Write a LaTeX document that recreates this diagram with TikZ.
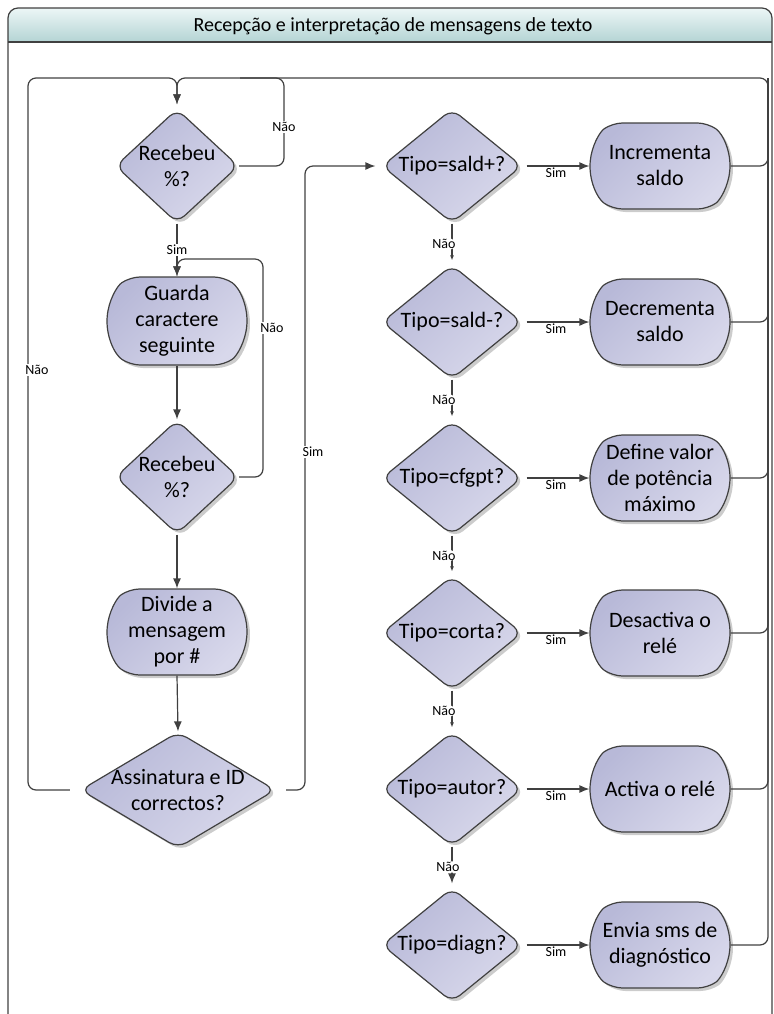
\documentclass[tikz,border=0pt]{standalone}
\usepackage{fontspec}
\setmainfont{Carlito}
\usepackage{tikz}
\usetikzlibrary{shapes.geometric, shapes.misc, arrows.meta, positioning, shadows}
\definecolor{nodetop}{RGB}{184,185,216}
\definecolor{nodebot}{RGB}{216,216,235}
\definecolor{edgegray}{RGB}{64,64,64}
\definecolor{headtop}{RGB}{236,246,246}
\definecolor{headbot}{RGB}{180,212,212}
\tikzstyle{decision} = [diamond, aspect=1.2, inner sep=-12pt, rounded corners=5pt, draw=edgegray, line width=0.6pt, top color=nodetop, bottom color=nodebot, shading angle=45, drop shadow={shadow xshift=1.5pt, shadow yshift=-1.5pt, fill=gray!80}, align=center, font=\fontsize{11}{13}\selectfont, minimum width=70pt, minimum height=57pt]
\tikzstyle{process} = [rounded rectangle, rounded rectangle arc length=110, rounded corners=5pt, draw=edgegray, line width=0.6pt, top color=nodetop, bottom color=nodebot, shading angle=45, drop shadow={shadow xshift=1.5pt, shadow yshift=-1.5pt, fill=gray!80}, align=center, font=\fontsize{11}{13}\selectfont, minimum width=72pt, minimum height=43pt, inner sep=1pt]
\tikzstyle{line} = [draw=edgegray, line width=0.6pt, rounded corners=4pt]
\tikzstyle{arrow} = [line, -{Latex[length=5pt,width=4pt]}]
\tikzstyle{smallarrow} = [line, -{Latex[length=2.5pt,width=2pt]}]
\tikzstyle{lbl} = [font=\fontsize{7}{8}\selectfont, fill=white, inner sep=0.5pt]

\begin{document}
\begin{tikzpicture}[x=0.5pt, y=-0.5pt]
\useasboundingbox (0,0) rectangle (773,1014);
\clip (0,0) rectangle (773,1014);

% frame and title band
\path[top color=headtop, bottom color=headbot] (8,42) {[rounded corners=5pt] -- (8,8) -- (772,8)} -- (772,42) -- cycle;
\draw[edgegray, line width=0.6pt, rounded corners=5pt] (8,1030) -- (8,8) -- (772,8) -- (772,1030);
\draw[edgegray, line width=0.6pt] (8,42) -- (772,42);
\node[font=\fontsize{10}{12}\selectfont] (title) at (393,26) {Recepção e interpretação de mensagens de texto};

% left column
\node[decision, minimum width=61.5pt] (rec1) at (177,166) {Recebeu\\\%?};
\node[process, minimum height=44pt] (guarda) at (177,321) {Guarda\\caractere\\seguinte};
\node[decision, minimum width=61.5pt] (rec2) at (177,477) {Recebeu\\\%?};
\node[process] (divide) at (177,632) {Divide a\\mensagem\\por \#};
\node[decision, minimum width=97.5pt, minimum height=58pt] (assin) at (178,790) {Assinatura e ID\\correctos?};

% right column
\node[decision] (saldp) at (452,166) {Tipo=sald+?};
\node[decision] (saldm) at (452,322) {Tipo=sald-?};
\node[decision] (cfgpt) at (452,478) {Tipo=cfgpt?};
\node[decision] (corta) at (452,633) {Tipo=corta?};
\node[decision] (autor) at (452,789) {Tipo=autor?};
\node[decision] (diagn) at (452,945) {Tipo=diagn?};

\node[process] (incr) at (660,166) {Incrementa\\saldo};
\node[process] (decr) at (660,322) {Decrementa\\saldo};
\node[process] (defval) at (660,478) {Define valor\\de potência\\máximo};
\node[process] (desact) at (660,633) {Desactiva o\\relé};
\node[process] (activa) at (660,789) {Activa o relé};
\node[process] (envia) at (660,945) {Envia sms de\\diagnóstico};

% connectors
\coordinate (ret) at (768,78);
\coordinate (lft) at (28,78);
\draw[arrow, shorten >=2pt] (envia.east) -| (ret) -| (rec1.north);
\foreach \p in {incr,decr,defval,desact,activa}
  \draw[line] (\p.east) -| (ret);
\draw[arrow, shorten >=2pt, shorten <=5pt] (assin.west) -| (lft) -| (rec1.north);
\draw[line] (rec1.east) -| (284,78) -- (240,78);
\draw[arrow] (rec1.south) -- node[lbl] (sim1) {Sim} (guarda.north);
\draw[arrow] (guarda.south) -- (rec2.north);
\draw[arrow] (rec2.south) -- (divide.north);
\draw[arrow] (divide.south) -- (assin.north);
\draw[arrow] (rec2.east) -| (263,259) -| (guarda.north);
\draw[arrow, shorten <=5pt, shorten >=3pt] (assin.east) -| (305,166) -- (saldp.west);

\node[lbl] (nao1) at (284,127) {Não};
\node[lbl] (nao2) at (272,328) {Não};
\node[lbl] (nao3) at (37,370) {Não};
\node[lbl] (sim2) at (313,452) {Sim};

\draw[smallarrow, shorten >=2pt] (saldp.south) -- node[lbl, xshift=-4pt] (nao4) {Não} (saldm.north);
\draw[smallarrow, shorten >=2pt] (saldm.south) -- node[lbl, xshift=-4pt] (nao5) {Não} (cfgpt.north);
\draw[smallarrow, shorten >=2pt] (cfgpt.south) -- node[lbl, xshift=-4pt] (nao6) {Não} (corta.north);
\draw[smallarrow, shorten >=2pt] (corta.south) -- node[lbl, xshift=-4pt] (nao7) {Não} (autor.north);
\draw[arrow, shorten >=2pt] (autor.south) -- node[lbl, xshift=-2pt] (nao8) {Não} (diagn.north);

\draw[arrow, shorten <=2pt] (saldp.east) -- node[lbl, below, fill=none] (sim3) {Sim} (incr.west);
\draw[arrow, shorten <=2pt] (saldm.east) -- node[lbl, below, fill=none] (sim4) {Sim} (decr.west);
\draw[arrow, shorten <=2pt] (cfgpt.east) -- node[lbl, below, fill=none] (sim5) {Sim} (defval.west);
\draw[arrow, shorten <=2pt] (corta.east) -- node[lbl, below, fill=none] (sim6) {Sim} (desact.west);
\draw[arrow, shorten <=2pt] (autor.east) -- node[lbl, below, fill=none] (sim7) {Sim} (activa.west);
\draw[arrow, shorten <=2pt] (diagn.east) -- node[lbl, below, fill=none] (sim8) {Sim} (envia.west);
\end{tikzpicture}
\end{document}
